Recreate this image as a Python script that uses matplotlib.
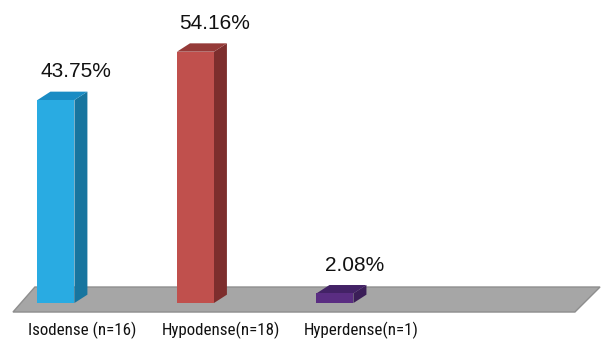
import matplotlib
matplotlib.use("Agg")
import matplotlib.pyplot as plt
from matplotlib.patches import Polygon

# data
categories = ["Isodense (n=16)", "Hypodense(n=18)", "Hyperdense(n=1)"]
percents = [43.75, 54.16, 2.08]
labels = ["43.75%", "54.16%", "2.08%"]

# face colours: front, side, top
front_cols = ["#29ABE2", "#C0504D", "#5A2D82"]
side_cols = ["#17759F", "#7D2E2D", "#3B1E58"]
top_cols = ["#1A8CC4", "#953A38", "#432266"]

fig = plt.figure(figsize=(6.02, 3.40), dpi=100)
ax = fig.add_axes([0, 0, 1, 1])
ax.set_xlim(-0.401, 3.914)
ax.set_ylim(-7.97, 65.3)
ax.axis("off")

w = 0.265     # bar width
dx = 0.093    # depth offset in x
dy = 1.8      # depth offset in y

# grey floor
floor = Polygon([(-0.308, -1.94), (3.72, -1.94), (3.90, 3.45), (-0.151, 3.45)],
                closed=True, facecolor="#A6A6A6", edgecolor="#8E8E8E", lw=1.0, zorder=1)
ax.add_patch(floor)

for i, v in enumerate(percents):
    x0 = i - w / 2
    x1 = i + w / 2
    front = Polygon([(x0, 0), (x1, 0), (x1, v), (x0, v)], closed=True,
                    facecolor=front_cols[i], edgecolor="none", zorder=3)
    side = Polygon([(x1, 0), (x1 + dx, dy), (x1 + dx, v + dy), (x1, v)], closed=True,
                   facecolor=side_cols[i], edgecolor="none", zorder=3)
    top = Polygon([(x0, v), (x1, v), (x1 + dx, v + dy), (x0 + dx, v + dy)], closed=True,
                  facecolor=top_cols[i], edgecolor="none", zorder=3)
    ax.add_patch(side)
    ax.add_patch(top)
    ax.add_patch(front)
    ax.text(i + 0.14, v + 6.1, labels[i], ha="center", va="center",
            fontsize=15, family="Liberation Sans", color="#111111", zorder=4)
    ax.text(i + 0.186, -5.9, categories[i], ha="center", va="center",
            fontsize=12.2, family=["Roboto Condensed", "DejaVu Sans"], color="#111111", zorder=4)

fig.savefig("out.png", dpi=100)
